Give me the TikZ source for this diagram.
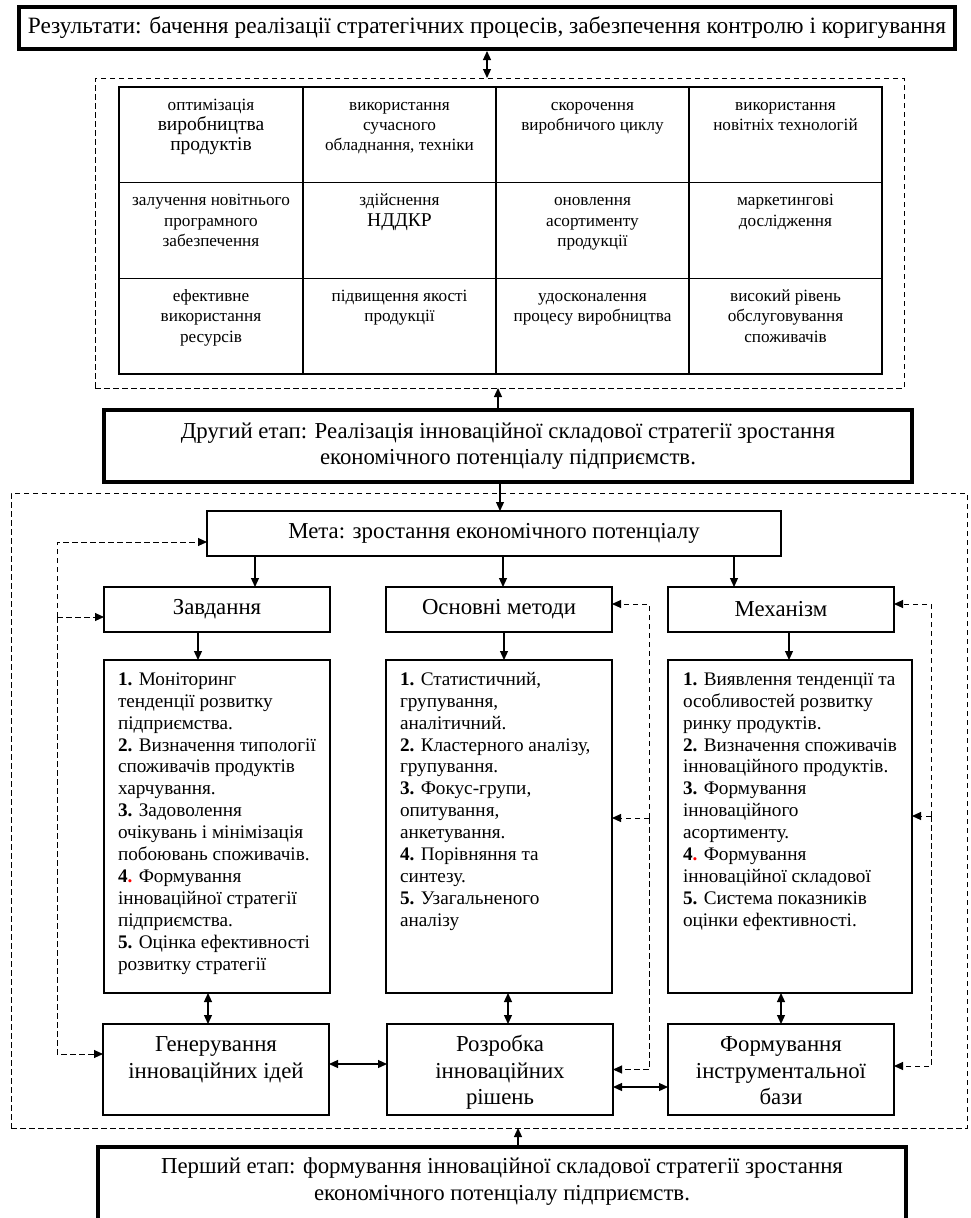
\documentclass[tikz,border=0pt]{standalone}
\usepackage{fontspec}
\setmainfont{Liberation Serif}
\usepackage{xcolor}
\usetikzlibrary{arrows.meta,positioning}

\newcommand{\bigcell}{\fontsize{19.5}{21.5}\selectfont}
\newcommand{\redpt}{\textcolor{red}{.}}

\begin{document}
\begin{tikzpicture}[
  x=1pt, y=-1pt,
  every node/.style={inner sep=0pt, outer sep=0pt},
  box/.style={draw, line width=1.2pt, align=center, font=\fontsize{22.8}{26.5}\selectfont},
  heavy/.style={draw, line width=4pt, align=center, font=\fontsize{22.8}{25.5}\selectfont},
  cell/.style={draw, line width=1.2pt, minimum height=95.67},
  celltxt/.style={anchor=north, align=center, font=\fontsize{17.2}{20.3}\selectfont},
  lst/.style={anchor=north west, align=left, font=\fontsize{19.2}{21.9}\selectfont},
  btxt/.style={anchor=north, align=center, font=\fontsize{22.8}{26.5}\selectfont},
  region/.style={draw, line width=1pt, dash pattern=on 5.5pt off 3.5pt},
  arrow/.style={-{Triangle[length=9pt,width=8pt]}, line width=1.2pt},
  dbl/.style={{Triangle[length=9pt,width=8pt]}-{Triangle[length=9pt,width=8pt]}, line width=1.2pt},
  fb/.style={line width=1pt, dash pattern=on 5.5pt off 3.5pt},
  fbarrow/.style={fb, -{Triangle[length=9pt,width=8pt]}}
]
\useasboundingbox (0,0) rectangle (970,1218);

% results and the grid of effects
\node[heavy, minimum width=936, minimum height=42, font=\fontsize{23.4}{26}\selectfont] (res) at (487,28)
  {Результати: бачення реалізації стратегічних процесів, забезпечення контролю і коригування};
\node[region, minimum width=809, minimum height=310] (gridarea) at (499.5,233) {};
\draw[dbl, shorten <=2pt] (res.south) -- (res.south |- gridarea.north);

\foreach \r/\cy in {1/134.8,2/230.5,3/326.2}
  \foreach \c/\cx/\cw in {1/211/184,2/399.5/193,3/592.5/193,4/785.5/193}
    \node[cell, minimum width=\cw] (c\r\c) at (\cx,\cy) {};

\node[celltxt] (t11) at ([yshift=-9pt]c11.north) {\strut оптимізація\\{\bigcell виробництва}\\{\bigcell продуктів}};
\node[celltxt] (t12) at ([yshift=-9pt]c12.north) {\strut використання\\сучасного\\обладнання, техніки};
\node[celltxt] (t13) at ([yshift=-9pt]c13.north) {\strut скорочення\\виробничого циклу};
\node[celltxt] (t14) at ([yshift=-9pt]c14.north) {\strut використання\\новітніх технологій};
\node[celltxt] (t21) at ([yshift=-9pt]c21.north) {\strut залучення новітнього\\програмного\\забезпечення};
\node[celltxt] (t22) at ([yshift=-9pt]c22.north) {\strut здійснення\\{\bigcell НДДКР}};
\node[celltxt] (t23) at ([yshift=-9pt]c23.north) {\strut оновлення\\асортименту\\продукції};
\node[celltxt] (t24) at ([yshift=-9pt]c24.north) {\strut маркетингові\\дослідження};
\node[celltxt] (t31) at ([yshift=-9pt]c31.north) {\strut ефективне\\використання\\ресурсів};
\node[celltxt] (t32) at ([yshift=-9pt]c32.north) {\strut підвищення якості\\продукції};
\node[celltxt] (t33) at ([yshift=-9pt]c33.north) {\strut удосконалення\\процесу виробництва};
\node[celltxt] (t34) at ([yshift=-9pt]c34.north) {\strut високий рівень\\обслуговування\\споживачів};

% second stage
\node[heavy, minimum width=808, minimum height=72] (stage2) at (508,446)
  {Другий етап: Реалізація інноваційної складової стратегії зростання\\економічного потенціалу підприємств.};
\draw[arrow] ([xshift=-10pt]stage2.north) -- ([xshift=-10pt]stage2.north |- gridarea.south);

\node[region, minimum width=956, minimum height=635] (workarea) at (489,810.5) {};

% goal, tasks, methods, mechanism
\node[box, minimum width=574, minimum height=45] (meta) at (494,533.5) {Мета: зростання економічного потенціалу};
\draw[arrow] ([xshift=-8pt]stage2.south) -- ([xshift=-8pt]stage2.south |- meta.north);

\node[box, minimum width=226, minimum height=45] (task) at (217,609.5) {Завдання};
\node[box, minimum width=226, minimum height=45, right=56pt of task] (meth) {Основні методи};
\node[box, minimum width=226, minimum height=45, right=56pt of meth] (mech) {Механізм};
\draw[arrow] ([xshift=-239pt]meta.south) -- ([xshift=38pt]task.north);
\draw[arrow] ([xshift=9pt]meta.south) -- ([xshift=4pt]meth.north);
\draw[arrow] ([xshift=240pt]meta.south) -- ([xshift=-47pt]mech.north);

\node[box, minimum width=226, minimum height=333, below=28pt of task] (tlist) {};
\node[box, minimum width=226, minimum height=333, below=28pt of meth] (mlist) {};
\node[box, minimum width=244, minimum height=333] (klist) at (790,826.5) {};
\draw[arrow] ([xshift=-19pt]task.south) -- ([xshift=-19pt]tlist.north);
\draw[arrow] ([xshift=5pt]meth.south) -- ([xshift=5pt]mlist.north);
\draw[arrow] ([xshift=8pt]mech.south) -- ([xshift=-1pt]klist.north);

\node[lst] (tlisttxt) at ([xshift=14pt,yshift=-10pt]tlist.north west) {\strut\textbf{1.} Моніторинг\\
тенденції розвитку\\
підприємства.\\
\textbf{2.} Визначення типології\\
споживачів продуктів\\
харчування.\\
\textbf{3.} Задоволення\\
очікувань і мінімізація\\
побоювань споживачів.\\
\textbf{4\redpt} Формування\\
інноваційної стратегії\\
підприємства.\\
\textbf{5.} Оцінка ефективності\\
розвитку стратегії};
\node[lst] (mlisttxt) at ([xshift=14pt,yshift=-10pt]mlist.north west) {\strut\textbf{1.} Статистичний,\\
групування,\\
аналітичний.\\
\textbf{2.} Кластерного аналізу,\\
групування.\\
\textbf{3.} Фокус-групи,\\
опитування,\\
анкетування.\\
\textbf{4.} Порівняння та\\
синтезу.\\
\textbf{5.} Узагальненого\\
аналізу};
\node[lst] (klisttxt) at ([xshift=15pt,yshift=-10pt]klist.north west) {\strut\textbf{1.} Виявлення тенденції та\\
особливостей розвитку\\
ринку продуктів.\\
\textbf{2.} Визначення споживачів\\
інноваційного продуктів.\\
\textbf{3.} Формування\\
інноваційного\\
асортименту.\\
\textbf{4\redpt} Формування\\
інноваційної складової\\
\textbf{5.} Система показників\\
оцінки ефективності.};

% results of the work
\node[box, minimum width=226, minimum height=91] (gen) at (216,1069.5) {};
\node[box, minimum width=226, minimum height=91] (roz) at (500,1069.5) {};
\node[box, minimum width=226, minimum height=91] (form) at (781,1069.5) {};
\node[btxt] (gentxt) at ([yshift=-9pt]gen.north) {\strut Генерування\\інноваційних ідей};
\node[btxt] (roztxt) at ([yshift=-9pt]roz.north) {\strut Розробка\\інноваційних\\рішень};
\node[btxt] (formtxt) at ([yshift=-9pt]form.north) {\strut Формування\\інструментальної\\бази};

\draw[dbl] ([xshift=-9pt]tlist.south) -- ([xshift=-8pt]gen.north);
\draw[dbl] ([xshift=9pt]mlist.south) -- ([xshift=8pt]roz.north);
\draw[dbl] ([xshift=-9pt]klist.south) -- (form.north);
\draw[dbl] ([yshift=5.5pt]gen.east) -- ([yshift=5.5pt]roz.west);
\draw[dbl] ([yshift=-17.5pt]roz.east) -- ([yshift=-17.5pt]form.west);

% feedback loops
\coordinate (fbl) at (57,617);
\coordinate (fbm) at (649,818);
\coordinate (fbr) at (931,816);
\draw[fbarrow] (fbl) |- ([yshift=-8.5pt]meta.west);
\draw[fbarrow] (fbl) |- ([yshift=15.5pt]gen.west);
\draw[fbarrow] (fbl) -- ([yshift=-7.5pt]task.west);
\draw[fbarrow] (fbm) |- ([yshift=5.5pt]meth.east);
\draw[fbarrow] (fbm) |- (roz.east);
\draw[fbarrow] (fbm) -- ([yshift=8.5pt]mlist.east);
\draw[fbarrow] (fbr) |- ([yshift=5.5pt]mech.east);
\draw[fbarrow] (fbr) |- ([yshift=3.5pt]form.east);
\draw[fbarrow] (fbr) -- ([yshift=10.5pt]klist.east);

% first stage
\node[heavy, minimum width=808, minimum height=77] (stage1) at (502,1185.5) {};
\node[font=\fontsize{22.8}{27}\selectfont, align=center] (stage1txt) at (502,1182)
  {Перший етап: формування інноваційної складової стратегії зростання\\економічного потенціалу підприємств.};
\draw[arrow] ([xshift=16pt]stage1.north) -- ([xshift=16pt]stage1.north |- workarea.south);
\end{tikzpicture}
\end{document}
